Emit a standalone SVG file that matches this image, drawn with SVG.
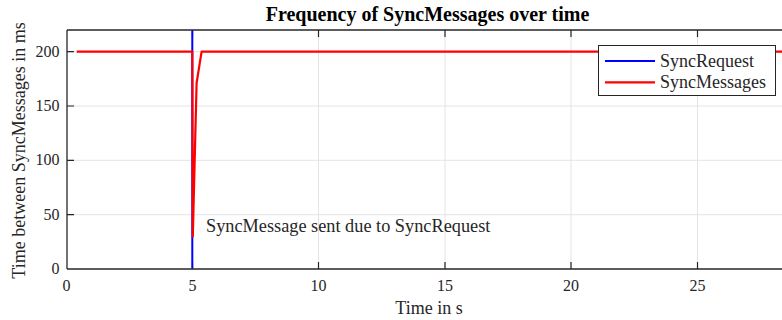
<svg xmlns="http://www.w3.org/2000/svg" width="782" height="320" viewBox="0 0 782 320">
  <style>
    .grid { stroke: #e4e4e4; stroke-width: 1; fill: none; }
    .axis { stroke: #262626; stroke-width: 1.3; fill: none; }
    .tick { stroke: #262626; stroke-width: 1.2; fill: none; }
    .lbl { font-family: "Liberation Serif", "Times New Roman", serif; fill: #262626; }
    .tk { font-size: 16px; }
    .xt { text-anchor: middle; }
    .yt { text-anchor: end; }
    .req { stroke: #0000ff; stroke-width: 2; fill: none; }
    .msg { stroke: #ff0000; stroke-width: 2.2; fill: none; stroke-linejoin: round; }
  </style>

  <rect x="0" y="0" width="782" height="320" fill="#ffffff"/>

  <!-- Grid lines -->
  <g id="grid">
    <line class="grid" x1="67" y1="51.7" x2="782" y2="51.7"/>
    <line class="grid" x1="67" y1="106" x2="782" y2="106"/>
    <line class="grid" x1="67" y1="160.3" x2="782" y2="160.3"/>
    <line class="grid" x1="67" y1="214.7" x2="782" y2="214.7"/>
    <line class="grid" x1="192.5" y1="30" x2="192.5" y2="269"/>
    <line class="grid" x1="318.5" y1="30" x2="318.5" y2="269"/>
    <line class="grid" x1="445" y1="30" x2="445" y2="269"/>
    <line class="grid" x1="571" y1="30" x2="571" y2="269"/>
    <line class="grid" x1="697.5" y1="30" x2="697.5" y2="269"/>
  </g>

  <!-- Axes box and ticks -->
  <g id="axes">
    <line class="axis" x1="67" y1="30" x2="782" y2="30"/>
    <line class="axis" x1="67" y1="269" x2="782" y2="269"/>
    <line class="axis" x1="67" y1="30" x2="67" y2="269"/>
    <!-- x ticks, bottom and top -->
    <path class="tick" d="M192.5 269v-7M318.5 269v-7M445 269v-7M571 269v-7M697.5 269v-7
                          M192.5 30v7M318.5 30v7M445 30v7M571 30v7M697.5 30v7"/>
    <!-- y ticks -->
    <path class="tick" d="M67 51.7h7M67 106h7M67 160.3h7M67 214.7h7"/>
  </g>

  <!-- Tick labels -->
  <g id="ticklabels" class="lbl tk">
    <text class="xt" x="66.5" y="290.5">0</text>
    <text class="xt" x="192.5" y="290.5">5</text>
    <text class="xt" x="318.5" y="290.5">10</text>
    <text class="xt" x="445" y="290.5">15</text>
    <text class="xt" x="571" y="290.5">20</text>
    <text class="xt" x="697.5" y="290.5">25</text>
    <text class="yt" x="59.5" y="274">0</text>
    <text class="yt" x="59.5" y="219.7">50</text>
    <text class="yt" x="59.5" y="165.3">100</text>
    <text class="yt" x="59.5" y="111">150</text>
    <text class="yt" x="59.5" y="56.7">200</text>
  </g>

  <!-- Data series -->
  <g id="series">
    <line id="sync-request" class="req" x1="192.3" y1="30.5" x2="192.3" y2="268.5"/>
    <polyline id="sync-messages" class="msg"
              points="76.7,51.7 192.3,51.7 192.8,236.7 196.6,83 201.6,51.7 790,51.7"/>
  </g>

  <!-- Annotation -->
  <text id="note" class="lbl" x="206" y="231.7" font-size="18.3">SyncMessage sent due to SyncRequest</text>

  <!-- Legend -->
  <g id="legend">
    <rect x="598.5" y="45.5" width="177" height="50" fill="#ffffff" stroke="#262626" stroke-width="1"/>
    <line class="req" x1="605" y1="61" x2="655" y2="61"/>
    <line class="msg" x1="605" y1="82.3" x2="655" y2="82.3"/>
    <text class="lbl" x="660" y="67.3" font-size="18" fill="#000">SyncRequest</text>
    <text class="lbl" x="660" y="88.3" font-size="18" fill="#000">SyncMessages</text>
  </g>

  <!-- Titles -->
  <text id="title" x="427.5" y="20.7" font-family="Liberation Serif, 'Times New Roman', serif" font-size="20" font-weight="bold" text-anchor="middle" fill="#000">Frequency of SyncMessages over time</text>
  <text id="xlabel" class="lbl" x="429" y="314" font-size="18" text-anchor="middle">Time in s</text>
  <text id="ylabel" class="lbl" font-size="18" text-anchor="middle" transform="translate(25,150.5) rotate(-90)">Time between SyncMessages in ms</text>
</svg>
